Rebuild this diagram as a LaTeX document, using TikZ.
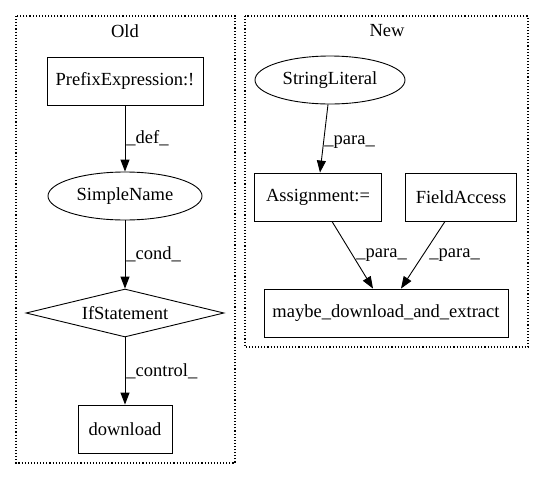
\documentclass[tikz,border=0pt]{standalone}
\usepackage{fontspec}
\setmainfont{Liberation Serif}
\usetikzlibrary{shapes.geometric,arrows.meta}

\tikzset{
  box/.style={draw, rectangle, minimum height=48pt, inner xsep=2pt},
  oval/.style={draw, ellipse, minimum height=48pt, inner xsep=1pt},
  cond/.style={draw, diamond, aspect=4.1, minimum height=48pt, inner sep=0pt},
  flow/.style={-{Triangle[length=12pt,width=9pt]}},
  lbl/.style={right, inner sep=1pt},
  cluster/.style={dotted, line width=1.1pt}
}

\begin{document}
\begin{tikzpicture}[x=1pt, y=-1pt, line width=0.9pt, font=\fontsize{18.5}{21}\selectfont]
			\useasboundingbox (0,0) rectangle (544,480);
			% clusters
			\draw[cluster] (16,16) rectangle (235,463);
			\draw[cluster] (245,16) rectangle (528,347);
			\node (old) at (125,31) {Old};
			\node (new) at (387,31) {New};
			% old side
			\node[box, minimum width=156pt] (prefix) at (125,81) {PrefixExpression:!};
			\node[oval, minimum width=154pt] (simple) at (125,196) {SimpleName};
			\node[cond, minimum width=198pt] (ifst) at (125,313) {IfStatement};
			\node[box, minimum width=94pt] (dl) at (125,429) {download};
			% new side
			\node[oval, minimum width=150pt] (strlit) at (330,80) {StringLiteral};
			\node[box, minimum width=127pt] (assign) at (318,197) {Assignment:=};
			\node[box, minimum width=111pt] (field) at (461,197) {FieldAccess};
			\node[box, minimum width=244pt] (maybe) at (386,313) {maybe\_download\_and\_extract};
			% edges
			\draw[flow] (prefix) -- (simple) node[lbl, pos=0.5] {\_def\_};
			\draw[flow] (simple) -- (ifst) node[lbl, pos=0.5] {\_cond\_};
			\draw[flow] (ifst) -- (dl) node[lbl, pos=0.5] {\_control\_};
			\draw[flow] (strlit.south -| 328,0) -- (assign.north -| 320,0);
			\node[lbl] (p1) at (323,142) {\_para\_};
			\draw[flow] (assign.south -| 332,0) -- (maybe.north -| 373,0);
			\node[lbl] (p2) at (355,255) {\_para\_};
			\draw[flow] (field.south -| 445,0) -- (maybe.north -| 401,0);
			\node[lbl] (p3) at (428,255) {\_para\_};
		\end{tikzpicture}
\end{document}
